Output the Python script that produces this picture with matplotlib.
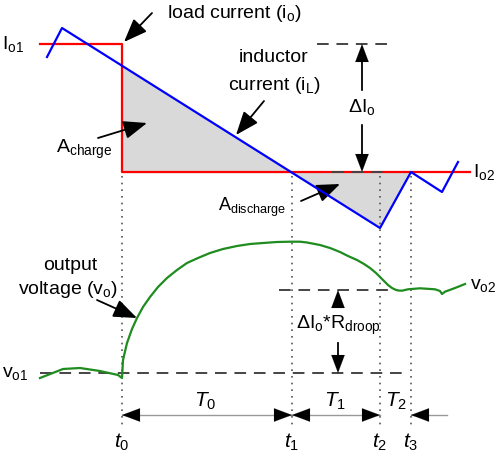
import matplotlib.pyplot as plt

plt.rcParams['font.family'] = ['Liberation Sans', 'DejaVu Sans']
plt.rcParams['mathtext.fontset'] = 'custom'
plt.rcParams['mathtext.rm'] = 'Liberation Sans'
plt.rcParams['mathtext.it'] = 'Liberation Sans:italic'

# traces (pixel units, y down)
load_x = [40, 122, 122, 470]
load_y = [44, 44, 172, 172]

ind_x = [47, 62, 380, 411, 442, 458]
ind_y = [57, 28, 228, 172, 192, 162]

charge_x = [122, 122, 291]
charge_y = [66, 172, 172]
discharge_x = [291, 380, 411]
discharge_y = [172, 228, 172]

vout_x = [40, 63, 80, 100, 118, 122, 123, 127, 132, 137, 143, 150, 158, 167, 177,
          187, 198, 210, 223, 237, 250, 263, 277, 290, 300, 307, 320, 330, 340,
          348, 357, 364, 370, 376, 380, 384, 388, 392, 395, 398, 402, 408, 420,
          435, 440, 442, 445, 455, 465]
vout_y = [378, 369, 368, 371, 375, 378, 360, 343, 329, 318, 307, 297, 287, 278, 270,
          263, 258, 253, 249, 246, 244, 243, 242, 241.7, 241.7, 242.5, 245, 248, 252,
          256, 260, 264, 268, 273, 277, 281, 285, 288, 289.5, 290.5, 290.7, 289.3, 288.3,
          289.3, 291, 294, 291.7, 288, 284]

io1, io2 = 44, 172
vo1, vo2 = 373, 290

t_x = [122, 292, 380, 411]
t_names = ['$\\mathit{t_0}$', '$\\mathit{t_1}$', '$\\mathit{t_2}$', '$\\mathit{t_3}$']
T_names = ['$\\mathit{T_0}$', '$\\mathit{T_1}$', '$\\mathit{T_2}$']
T_x = [205, 335, 396]

fig = plt.figure(figsize=(5.03, 4.59), dpi=100)
ax = fig.add_axes([0, 0, 1, 1])
ax.set_xlim(0, 503)
ax.set_ylim(459, 0)
ax.axis('off')

dash = dict(color='#444444', lw=1.4, dashes=(6, 4))
dot = dict(color='#555555', lw=1.2, ls=(0, (1, 3)))


def head(tip, dx=0, dy=0, size=16):
    ax.annotate('', xy=tip, xytext=(tip[0] + dx, tip[1] + dy),
                arrowprops=dict(arrowstyle='-|>,head_length=0.8,head_width=0.3',
                                color='black', lw=0.1, shrinkA=0, shrinkB=0,
                                mutation_scale=size))


def pointer(tail, tip):
    ax.annotate('', xy=tip, xytext=tail,
                arrowprops=dict(arrowstyle='-|>,head_length=0.9,head_width=0.35',
                                color='black', lw=1.3, shrinkA=0, shrinkB=0,
                                mutation_scale=16))


# shaded areas
ax.fill(charge_x, charge_y, color='#d9d9d9', zorder=1)
ax.fill(discharge_x, discharge_y, color='#d9d9d9', zorder=1)

# dotted time markers
for x in t_x:
    ax.plot([x, x], [176, 428], **dot, zorder=1)

# dashed reference levels
ax.plot([317, 390], [io1, io1], **dash)
ax.plot([40, 405], [vo1, vo1], **dash, zorder=2)
ax.plot([279, 398], [vo2, vo2], **dash, zorder=2)

ax.plot(load_x, load_y, color='#ff0000', lw=1.6, zorder=3)
ax.plot([332, 390], [io2, io2], **dash, zorder=4)
ax.plot(ind_x, ind_y, color='#0000ff', lw=1.6, zorder=5)
ax.plot(vout_x, vout_y, color='#1e8c1e', lw=1.6, zorder=5)

# delta Io arrow
ax.plot([362, 362], [io1 + 10, io2 - 10], color='black', lw=1.3)
head((362, io1), dy=16)
head((362, io2), dy=-16)
ax.text(362, 107, 'ΔI$_\\mathrm{o}$', fontsize=14, ha='center', va='center',
        backgroundcolor='white')

# droop arrows
ax.plot([338, 338], [vo2 + 10, 307], color='black', lw=1.3)
ax.plot([338, 338], [343, vo1 - 10], color='black', lw=1.3)
head((338, vo2), dy=16)
head((338, vo1), dy=-16)
ax.text(338, 325, 'ΔI$_\\mathrm{o}$*R$_\\mathrm{droop}$', fontsize=14,
        ha='center', va='center')

# time intervals
ty = 415
ax.plot([t_x[0], t_x[2]], [ty, ty], color='#999999', lw=1.0)
ax.plot([t_x[3], 447], [ty, ty], color='#999999', lw=1.0)
head((t_x[0], ty), dx=16)
head((t_x[1], ty), dx=-16)
head((t_x[1], ty), dx=16)
head((t_x[2], ty), dx=-16)
head((t_x[3], ty), dx=16)
for x, s in zip(T_x, T_names):
    ax.text(x, 401, s, fontsize=15, ha='center', va='center')
for x, s in zip(t_x, t_names):
    ax.text(x, 442, s, fontsize=15, ha='center', va='center')

# labels
ax.text(2, io1, 'I$_\\mathrm{o1}$', fontsize=14, va='center')
ax.text(473, io2, 'I$_\\mathrm{o2}$', fontsize=14, va='center')
ax.text(2, vo1, 'v$_\\mathrm{o1}$', fontsize=14, va='center')
ax.text(470, vo2 - 4, 'v$_\\mathrm{o2}$', fontsize=14, va='center')

ax.text(167, 14, 'load current (i$_\\mathrm{o}$)', fontsize=14, va='center')
pointer((152, 13), (124, 42))

ax.text(274, 58, 'inductor', fontsize=14, ha='center', va='center')
ax.text(274, 85, 'current (i$_\\mathrm{L}$)', fontsize=14, ha='center', va='center')
pointer((264, 101), (236, 135))

ax.text(56, 149, 'A$_\\mathrm{charge}$', fontsize=14, va='center')
pointer((98, 138), (147, 123))

ax.text(218, 207, 'A$_\\mathrm{discharge}$', fontsize=13, va='center')
pointer((301, 201), (340, 184))

ax.text(70, 265, 'output', fontsize=14, ha='center', va='center')
ax.text(68, 290, 'voltage (v$_\\mathrm{o}$)', fontsize=14, ha='center', va='center')
pointer((97, 300), (137, 318))

fig.savefig('out.png', dpi=100)
